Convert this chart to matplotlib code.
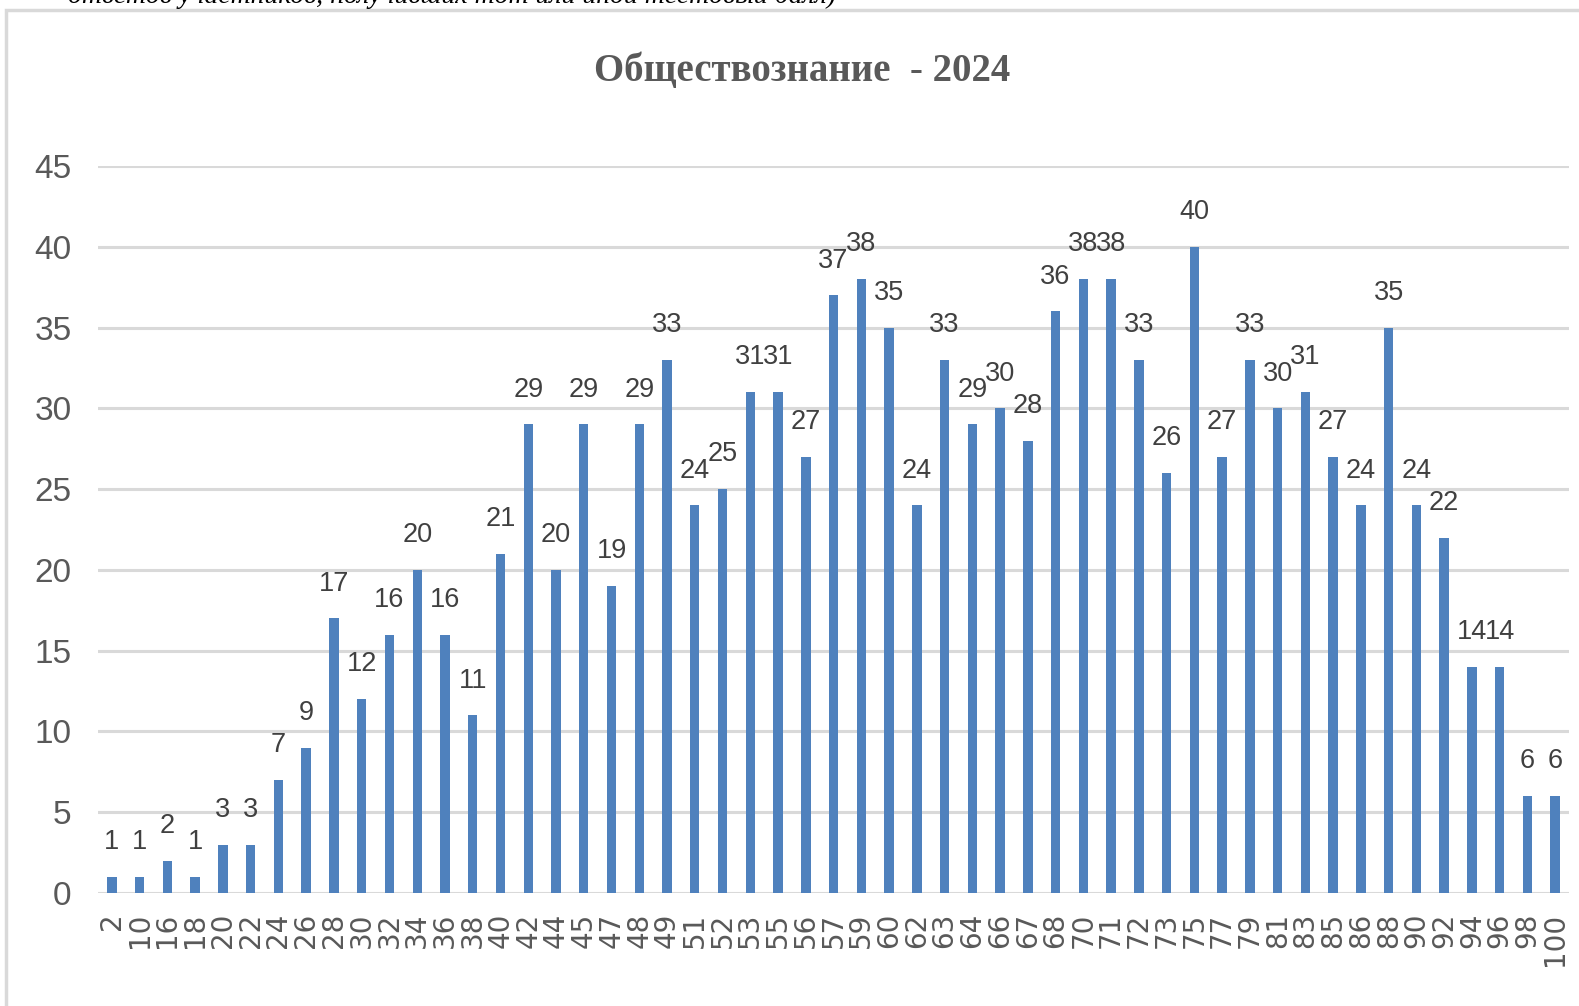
import numpy as np
import matplotlib.pyplot as plt
from matplotlib.patches import Rectangle
from matplotlib import font_manager

scores = ['2', '10', '16', '18', '20', '22', '24', '26', '28', '30', '32', '34', '36', '38',
          '40', '42', '44', '45', '47', '48', '49', '51', '52', '53', '55', '56', '57', '59',
          '60', '62', '63', '64', '66', '67', '68', '70', '71', '72', '73', '75', '77', '79',
          '81', '83', '85', '86', '88', '90', '92', '94', '96', '98', '100']
counts = [1, 1, 2, 1, 3, 3, 7, 9, 17, 12, 16, 20, 16, 11, 21, 29, 20, 29, 19, 29, 33,
          24, 25, 31, 31, 27, 37, 38, 35, 24, 33, 29, 30, 28, 36, 38, 38, 33, 26, 40,
          27, 33, 30, 31, 27, 24, 35, 24, 22, 14, 14, 6, 6]
yticks = [0, 5, 10, 15, 20, 25, 30, 35, 40, 45]

title = 'Обществознание  - 2024'
caption = 'ответов участников, получивших тот или иной тестовый балл)'

# pick the narrowest sans family that is installed
installed = {f.name for f in font_manager.fontManager.ttflist}
narrow = next(f for f in ['Liberation Sans Narrow', 'DejaVu Sans Condensed',
                          'Liberation Sans', 'DejaVu Sans'] if f in installed)

fig = plt.figure(figsize=(15.79, 10.06), dpi=100)
ax = fig.add_axes([0.0621, 0.1123, 0.9316, 0.7227])

x = np.arange(len(scores))
ax.bar(x, counts, width=0.34, color='#4f81bd', zorder=3)

for xi, v in zip(x, counts):
    ax.annotate(str(v), (xi, v), xytext=(0, 25), textcoords='offset points',
                ha='center', va='center', fontsize=19.5, color='#404040', family=narrow)

ax.set_xlim(-0.5, len(scores) - 0.5)
ax.set_ylim(0, 45)
ax.set_yticks(yticks)
ax.set_xticks(x)
ax.set_xticklabels(scores, rotation=90, fontsize=20, color='#595959', family='DejaVu Sans')
ax.set_yticklabels([str(t) for t in yticks], fontsize=24, color='#595959', family=narrow)
ax.tick_params(axis='x', length=0, pad=14)
ax.tick_params(axis='y', length=0, pad=19)
ax.grid(axis='y', color='#d9d9d9', linewidth=2.2, zorder=0)
for s in ax.spines.values():
    s.set_visible(False)

fig.text(0.508, 0.929, title, ha='center', va='center', fontsize=28, fontweight='bold',
         color='#595959', family='Liberation Serif')
fig.text(836 / 1579, 1 - 3 / 1006, caption, ha='right', va='baseline', fontsize=20,
         style='italic', color='black', family='Liberation Serif')

fig.patches.append(Rectangle((6 / 1579, -0.05), 1.2, 1 - 10 / 1006 + 0.05,
                             transform=fig.transFigure, fill=False,
                             edgecolor='#d9d9d9', linewidth=2.5))

fig.savefig('out.png', dpi=100)
